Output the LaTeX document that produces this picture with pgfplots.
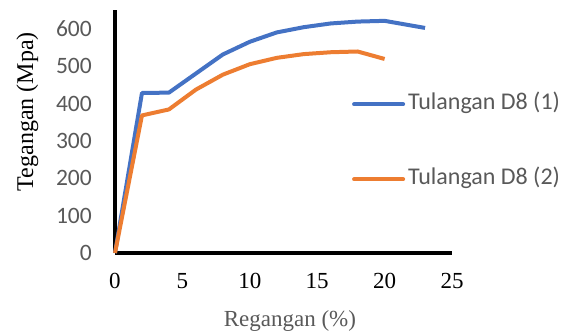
\documentclass[border=0pt]{standalone}
\usepackage{pgfplots}
\pgfplotsset{compat=1.18}
\usepackage{fontspec}
\setmainfont{Liberation Serif}
\newfontfamily\calibri{Carlito}

\definecolor{xlblue}{HTML}{4472C4}
\definecolor{xlorange}{HTML}{ED7D31}
\definecolor{xlgray}{HTML}{595959}

% Stress-strain data for the two D8 bars
\pgfplotstableread{
x y
0 0
2 428
4 429
6 480
8 531
10 565
12 590
14 604
16 614
18 619
20 621
23 602
}\barone
\pgfplotstableread{
x y
0 0
2 368
4 384
6 437
8 477
10 505
12 522
14 532
16 537
18 539
20 519
}\bartwo

\begin{document}
\begin{tikzpicture}
\begin{axis}[
  name=ax,
  scale only axis,
  width=337pt, height=243pt,
  xmin=0, xmax=25, ymin=0, ymax=650,
  axis x line*=bottom, axis y line*=left,
  axis line style={black, line width=3.5pt, -},
  xtick={0,5,...,25}, ytick={0,100,...,600},
  major tick length=0pt,
  tick style={draw=none},
  clip=false,
  /pgf/number format/assume math mode=true,
  yticklabel style={font=\calibri\fontsize{23.5}{27}\selectfont, text=xlgray, inner sep=0pt, anchor=east, xshift=-23pt},
  xticklabel style={font=\fontsize{23}{27}\selectfont, text=black, inner sep=0pt, anchor=north, yshift=-20pt},
  xlabel={Regangan (\%)},
  ylabel={Tegangan (Mpa)},
  xlabel style={font=\fontsize{23}{27}\selectfont, text=xlgray, at={(axis description cs:0.519,-0.3045)}, anchor=base, inner sep=0pt},
  ylabel style={font=\fontsize{24}{28}\selectfont, text=black, at={(axis description cs:-0.2433,0.582)}, anchor=base, inner sep=0pt},
  legend cell align=left,
  legend style={draw=none, fill=none, inner sep=0pt, row sep=54pt,
    at={(axis description cs:0.703,0.457)}, anchor=west,
    font=\calibri\fontsize{24}{28}\selectfont, text=xlgray,
    nodes={inner sep=0pt, text height=16pt, text depth=5pt},
    column sep=3pt},
  legend image code/.code={\draw[#1, line cap=round] (2pt,0pt) -- (51pt,0pt);},
]
\addplot[xlblue, line width=4pt, line join=round] table[x=x,y=y] {\barone};
\addlegendentry{Tulangan D8 (1)}
\addplot[xlorange, line width=4pt, line join=round] table[x=x,y=y] {\bartwo};
\addlegendentry{Tulangan D8 (2)}
\end{axis}
\pgfresetboundingbox
\path ([shift={(-115pt,-78pt)}]ax.south west) rectangle ([shift={(119pt,10pt)}]ax.north east);
\end{tikzpicture}
\end{document}
